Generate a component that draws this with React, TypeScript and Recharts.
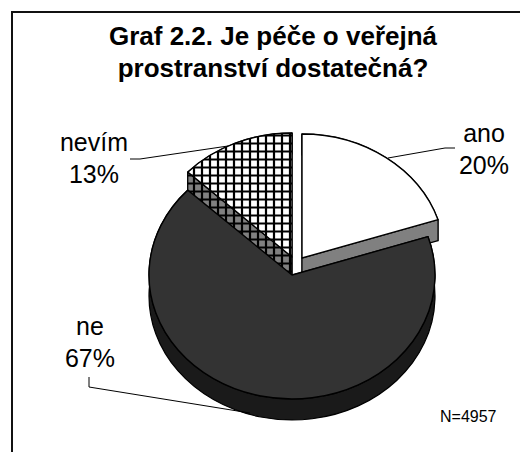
import { PieChart, Pie } from 'recharts';

const names = ['ano', 'ne', 'nevím'];
const values = [20, 67, 13];
const sampleSize = 'N=4957';
const titleLines = ['Graf 2.2. Je péče o veřejná', 'prostranství dostatečná?'];

const data = names.map((name, i) => ({ name, value: values[i] }));

const RX = 143;
const RY = 124;
const DEPTH = 21;

const OFFSETS: Record<string, { x: number; y: number }> = {
  ano: { x: 10, y: -17 },
  ne: { x: 0, y: 0 },
  'nevím': { x: 0, y: -18 },
};
const TOP_FILL: Record<string, string> = { ano: '#ffffff', ne: '#333333', 'nevím': 'url(#hatchTop)' };
const SIDE_FILL: Record<string, string> = { ano: '#808080', ne: '#1a1a1a', 'nevím': 'url(#hatchSide)' };

const LABELS: Record<string, { x: number; y: number; line: string }> = {
  ano: { x: 484, y: 142, line: '455,148 445,148 388,158' },
  ne: { x: 90, y: 335, line: '89,377 89,387 250,413' },
  'nevím': { x: 94, y: 151, line: '130,159 140,159 228,146' },
};

const point = (cx: number, cy: number, deg: number) => {
  const a = (deg * Math.PI) / 180;
  return [cx + RX * Math.cos(a), cy - RY * Math.sin(a)];
};

function slicePath(cx: number, cy: number, start: number, end: number) {
  const [x1, y1] = point(cx, cy, start);
  const [x2, y2] = point(cx, cy, end);
  const large = Math.abs(start - end) > 180 ? 1 : 0;
  return `M${cx},${cy}L${x1},${y1}A${RX},${RY} 0 ${large} 1 ${x2},${y2}Z`;
}

function TopSlice(props: any) {
  const off = OFFSETS[props.name];
  const d = slicePath(props.cx + off.x, props.cy + off.y, props.startAngle, props.endAngle);
  return <path d={d} fill={TOP_FILL[props.name]} stroke="#000" strokeWidth={1.4} strokeLinejoin="round" />;
}

function SideSlice(props: any) {
  const off = OFFSETS[props.name];
  const cx = props.cx + off.x;
  const cy = props.cy + off.y;
  const { startAngle, endAngle } = props;
  const [x1, y1] = point(cx, cy, startAngle);
  const [x2, y2] = point(cx, cy, endAngle);
  const large = Math.abs(startAngle - endAngle) > 180 ? 1 : 0;
  const fill = SIDE_FILL[props.name];
  const wall = `M${x1},${y1}A${RX},${RY} 0 ${large} 1 ${x2},${y2}L${x2},${y2 + DEPTH}A${RX},${RY} 0 ${large} 0 ${x1},${y1 + DEPTH}Z`;
  const edgeA = `M${cx},${cy}L${x1},${y1}L${x1},${y1 + DEPTH}L${cx},${cy + DEPTH}Z`;
  const edgeB = `M${cx},${cy}L${x2},${y2}L${x2},${y2 + DEPTH}L${cx},${cy + DEPTH}Z`;
  return (
    <g fill={fill} stroke="#000" strokeWidth={1.2} strokeLinejoin="round">
      <path d={wall} />
      <path d={edgeA} />
      <path d={edgeB} />
    </g>
  );
}

function SliceLabel(props: any) {
  const pos = LABELS[props.name];
  return (
    <g>
      <polyline points={pos.line} fill="none" stroke="#000" strokeWidth={1} />
      <text x={pos.x} y={pos.y} textAnchor="middle" fontSize={25} fontFamily="Liberation Sans" fill="#000">
        {props.name}
      </text>
      <text x={pos.x} y={pos.y + 31.5} textAnchor="middle" fontSize={25} fontFamily="Liberation Sans" fill="#000">
        {`${Math.round(props.percent * 100)}%`}
      </text>
    </g>
  );
}

export default function App() {
  return (
    <div style={{ position: 'absolute', left: 0, top: 0, width: 520, height: 452, background: '#fff', overflow: 'hidden' }}>
      <PieChart width={520} height={452} margin={{ top: 0, right: 0, bottom: 0, left: 0 }}>
        <defs>
          <pattern id="hatchTop" width={8} height={8} patternUnits="userSpaceOnUse" patternTransform="translate(-2,3.5)">
            <rect width={8} height={8} fill="#fff" />
            <path d="M0,4H8M4,0V8" stroke="#000" strokeWidth={2.2} />
          </pattern>
          <pattern id="hatchSide" width={8} height={8} patternUnits="userSpaceOnUse" patternTransform="translate(-2,3.5)">
            <rect width={8} height={8} fill="#808080" />
            <path d="M0,4H8M4,0V8" stroke="#000" strokeWidth={2.2} />
          </pattern>
        </defs>
        <Pie
          data={data}
          dataKey="value"
          nameKey="name"
          cx={292}
          cy={275}
          outerRadius={RX}
          startAngle={90}
          endAngle={-270}
          shape={SideSlice}
          label={false}
          labelLine={false}
          isAnimationActive={false}
        />
        <Pie
          data={data}
          dataKey="value"
          nameKey="name"
          cx={292}
          cy={275}
          outerRadius={RX}
          startAngle={90}
          endAngle={-270}
          shape={TopSlice}
          label={SliceLabel}
          labelLine={false}
          isAnimationActive={false}
        />
      </PieChart>
      <div style={{ position: 'absolute', left: 11, top: 11, right: 0, bottom: 0, borderLeft: '2px solid #111', borderTop: '2px solid #111', pointerEvents: 'none' }} />
      <div style={{ position: 'absolute', left: 0, width: 546, top: 20, textAlign: 'center', fontFamily: 'Liberation Sans', fontWeight: 700, fontSize: 26, lineHeight: '32px', color: '#000' }}>
        {titleLines.map((t) => (
          <div key={t}>{t}</div>
        ))}
      </div>
      <div style={{ position: 'absolute', left: 440, top: 408, fontFamily: 'Liberation Sans', fontSize: 16, color: '#000' }}>{sampleSize}</div>
    </div>
  );
}
